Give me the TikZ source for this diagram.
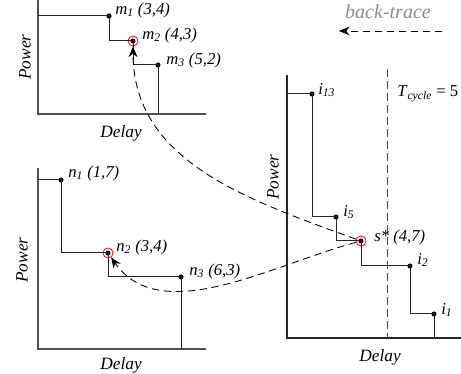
\documentclass[tikz,border=0pt]{standalone}
\usepackage{fontspec}
\setmainfont{Liberation Serif}
\usepackage{tikz}
\usetikzlibrary{arrows.meta}
\definecolor{axisgray}{HTML}{505050}
\definecolor{tracegray}{HTML}{8C8C8C}
\begin{document}
\begin{tikzpicture}[x=0.75pt,y=0.75pt,axis/.style={draw=axisgray,line width=1pt},stair/.style={draw=black!85,line width=0.75pt},dot/.style={circle,fill=black,inner sep=0pt,minimum size=3.8pt},ring/.style={circle,draw=red,line width=0.6pt,inner sep=0pt,minimum size=7.5pt},lbl/.style={anchor=west,inner sep=0pt,font=\fontsize{12.5}{14}\selectfont\itshape},axlbl/.style={font=\fontsize{13}{15}\selectfont\itshape},trace/.style={-{Stealth[length=2.8mm,width=2.3mm]},line width=0.65pt,dash pattern=on 5.5pt off 3.5pt}]
\useasboundingbox (0,0) rectangle (461,374);
% top left: m
\coordinate (ma) at (38,374);
\coordinate (mo) at (38,260);
\coordinate (mx) at (206,260);
\draw[axis] (ma) -- (mo) -- (mx);
\node[dot] (m1) at (109,358) {};
\node[dot] (m2) at (133,333) {};
\node[dot] (m3) at (158,309) {};
\node[ring] (m2c) at (m2) {};
\draw[stair] (mo |- m1) -- (m1.center) |- (m2.center) |- (m3.center) -- (m3 |- mo);
\node[lbl] (m1l) at (115,364) {m\textsubscript{1} (3,4)};
\node[lbl] (m2l) at (142,339) {m\textsubscript{2} (4,3)};
\node[lbl] (m3l) at (166,314) {m\textsubscript{3} (5,2)};
\node[axlbl,rotate=90] (mp) at (25,317) {Power};
\node[axlbl] (md) at (121,241) {Delay};
% bottom left: n
\coordinate (na) at (38,206);
\coordinate (no) at (38,25);
\coordinate (nx) at (206,25);
\draw[axis] (na) -- (no) -- (nx);
\node[dot] (n1) at (61,194) {};
\node[dot] (n2) at (108,121) {};
\node[dot] (n3) at (181,97) {};
\node[ring] (n2c) at (n2) {};
\draw[stair] (no |- n1) -- (n1.center) |- (n2.center) |- (n3.center) -- (n3 |- no);
\node[lbl] (n1l) at (68,201) {n\textsubscript{1} (1,7)};
\node[lbl] (n2l) at (116,127) {n\textsubscript{2} (3,4)};
\node[lbl] (n3l) at (189,103) {n\textsubscript{3} (6,3)};
\node[axlbl,rotate=90] (np) at (22,114) {Power};
\node[axlbl] (nd) at (121,9) {Delay};
% right: i
\coordinate (ia) at (287,299);
\coordinate (io) at (287,36);
\coordinate (ix) at (461,36);
\draw[stair,line width=0.85pt] (ia) -- (io) -- (ix);
\node[dot] (i13) at (312,280) {};
\node[dot] (i5) at (336,157) {};
\node[dot] (s) at (361,133) {};
\node[dot] (i2) at (410,108) {};
\node[dot] (i1) at (434,60) {};
\node[ring] (sc) at (s) {};
\draw[stair] (io |- i13) -- (i13.center) |- (i5.center) |- (s.center) |- (i2.center) |- (i1.center) -- (i1 |- io);
\coordinate (tt) at (387,305);
\coordinate (tb) at (387,36);
\draw[axisgray,line width=0.6pt,dash pattern=on 6pt off 3pt] (tt) -- (tb);
\node[lbl] (i13l) at (318,284) {i\textsubscript{13}};
\node[lbl] (i5l) at (343,162) {i\textsubscript{5}};
\node[lbl] (sl) at (374,137) {s* (4,7)};
\node[lbl] (i2l) at (417,114) {i\textsubscript{2}};
\node[lbl] (i1l) at (441,64) {i\textsubscript{1}};
\node[lbl,font=\fontsize{12.5}{14}\selectfont] (tl) at (397,280) {\textit{T}\textsubscript{\textit{cycle}} = 5};
\node[axlbl,rotate=90] (ip) at (273,197) {Power};
\node[axlbl] (id) at (380,17) {Delay};
% back-trace
\node[font=\fontsize{15}{17}\selectfont\itshape,text=tracegray] (bt) at (388,362) {back-trace};
\coordinate (br) at (442,343);
\coordinate (bl) at (339,343);
\draw[trace] (br) -- (bl);
\draw[trace] (sc) to[out=160,in=-90] (m2c);
\draw[trace] (sc) to[out=195,in=-55,looseness=0.9] (n2c);
\end{tikzpicture}
\end{document}
